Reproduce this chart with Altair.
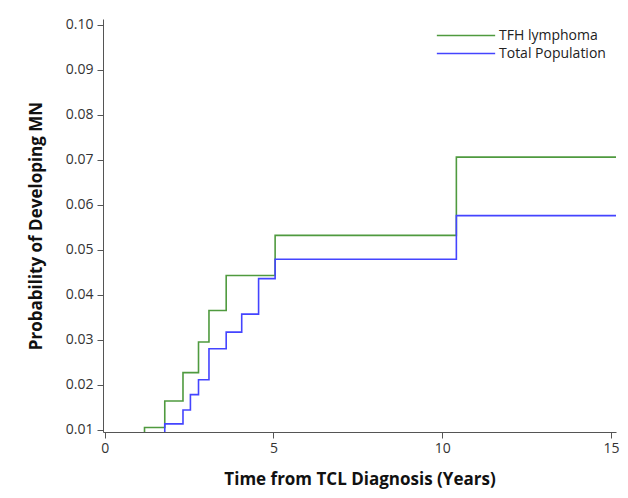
import altair as alt
import pandas as pd

# Data
tfh_time = [0, 1.18, 1.78, 2.32, 2.78, 3.09, 3.60, 5.05, 10.42, 15.15]
tfh_prob = [0.009, 0.0105, 0.0164, 0.0227, 0.0295, 0.0365, 0.0443, 0.0532, 0.0706, 0.0706]

tot_time = [0, 1.78, 2.32, 2.54, 2.78, 3.09, 3.60, 4.06, 4.56, 5.05, 10.42, 15.15]
tot_prob = [0.009, 0.0113, 0.0144, 0.0178, 0.0211, 0.0280, 0.0317, 0.0357, 0.0436, 0.0479, 0.0576, 0.0576]

series_names = ["TFH lymphoma", "Total Population"]
series_colors = ["#4f9a3f", "#4444ff"]
x_ticks = [0, 5, 10, 15]
y_ticks = [0.01, 0.02, 0.03, 0.04, 0.05, 0.06, 0.07, 0.08, 0.09, 0.10]

df = pd.concat([
    pd.DataFrame({"time": tfh_time, "prob": tfh_prob, "group": series_names[0], "order": range(len(tfh_time))}),
    pd.DataFrame({"time": tot_time, "prob": tot_prob, "group": series_names[1], "order": range(len(tot_time))}),
])

font = "Open Sans"

chart = alt.Chart(df).mark_line(interpolate="step-after", strokeWidth=1.6, clip=True).encode(
    x=alt.X("time:Q",
            scale=alt.Scale(domain=[-0.05, 15.15], nice=False, zero=False),
            axis=alt.Axis(values=x_ticks, title="Time from TCL Diagnosis (Years)", format="d",
                          grid=False, tickSize=6, labelPadding=3, titlePadding=16,
                          labelFontSize=14, titleFontSize=17, titleFontWeight="bold",
                          labelColor="#333333", titleColor="#111111",
                          domainColor="#555555", tickColor="#555555",
                          labelFont=font, titleFont=font)),
    y=alt.Y("prob:Q",
            scale=alt.Scale(domain=[0.0095, 0.1013], nice=False, zero=False),
            axis=alt.Axis(values=y_ticks, title="Probability of Developing MN", format=".2f",
                          grid=False, tickSize=6, labelPadding=4, titlePadding=20,
                          labelFontSize=14, titleFontSize=17, titleFontWeight="bold",
                          labelColor="#333333", titleColor="#111111",
                          domainColor="#555555", tickColor="#555555",
                          labelFont=font, titleFont=font)),
    color=alt.Color("group:N",
                    scale=alt.Scale(domain=series_names, range=series_colors),
                    legend=alt.Legend(title=None, orient="none", legendX=333, legendY=8,
                                      symbolType="stroke", symbolSize=3400, symbolStrokeWidth=1.6,
                                      clipHeight=17, labelFontSize=14, labelFont=font,
                                      labelColor="#222222", labelOffset=3, rowPadding=1)),
    order="order:Q",
).properties(
    width=513,
    height=413,
    padding={"left": 95, "top": 11, "right": 4, "bottom": 58},
    autosize=alt.AutoSizeParams(type="none"),
).configure_view(stroke=None)

chart.save("out.html", embed_options={"renderer": "svg", "actions": False})
